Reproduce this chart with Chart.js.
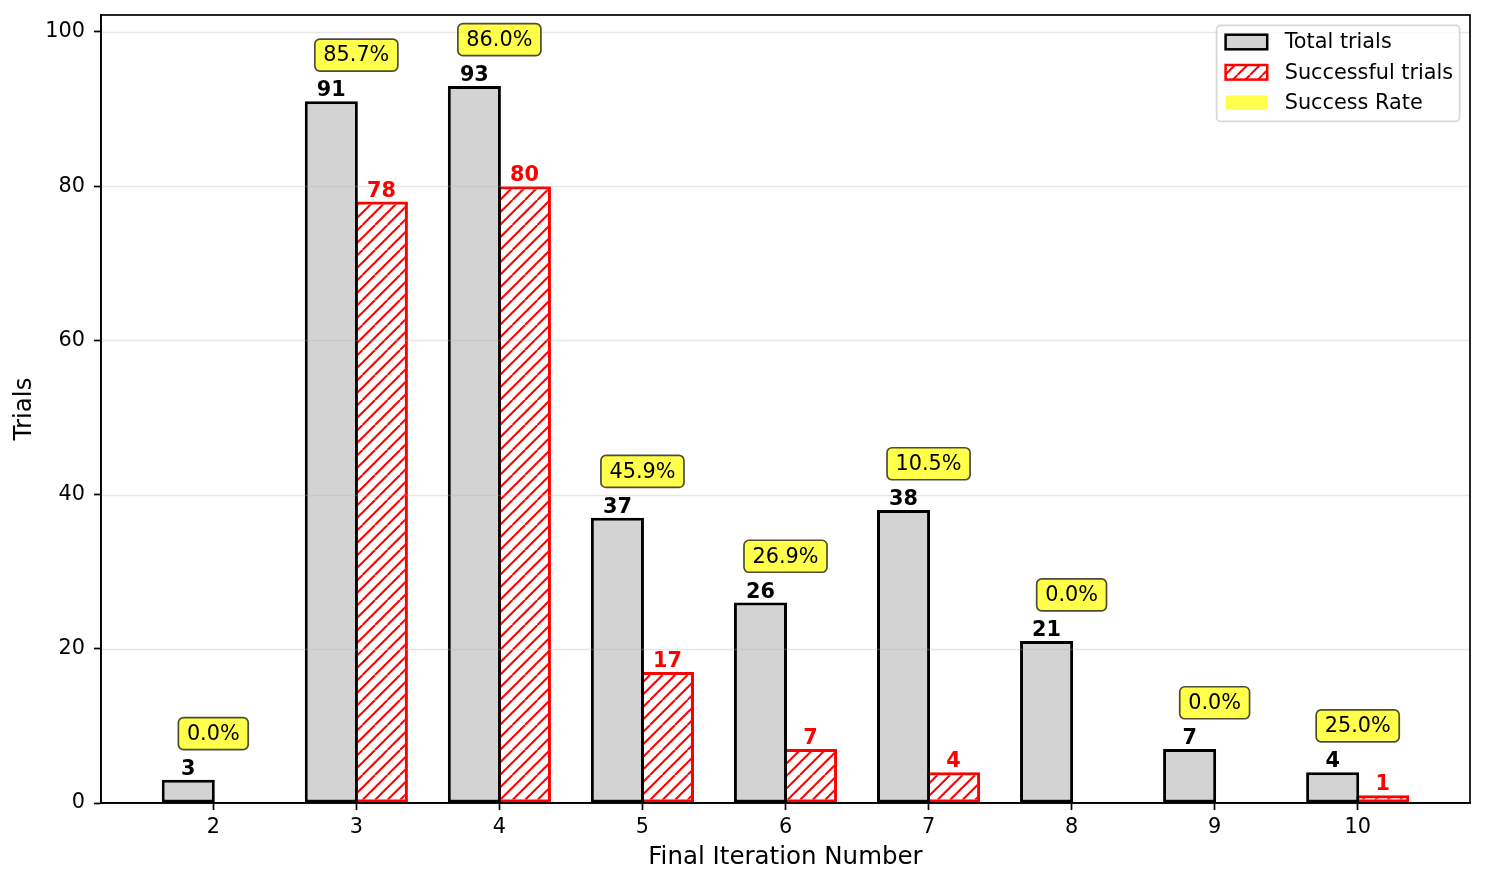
<!DOCTYPE html>
<html>
<head>
<meta charset="utf-8">
<script src="https://cdn.jsdelivr.net/npm/chart.js@4.4.1/dist/chart.umd.min.js"></script>
<style>
  html, body { margin: 0; padding: 0; background: #fff; }
</style>
</head>
<body>
<canvas id="grafica" width="1486" height="885"></canvas>
<script>
// datos
const iteraciones = [2, 3, 4, 5, 6, 7, 8, 9, 10];
const totalTrials = [3, 91, 93, 37, 26, 38, 21, 7, 4];
const successTrials = [0, 78, 80, 17, 7, 4, 0, 0, 1];
const yTicks = [0, 20, 40, 60, 80, 100];
const leyenda = ['Total trials', 'Successful trials', 'Success Rate'];

const FUENTE = "'DejaVu Sans', sans-serif";
Chart.defaults.font.family = FUENTE;
Chart.defaults.color = '#000';

// patron rayado "//" en rojo
function crearRayado() {
  const c = document.createElement('canvas');
  c.width = 25; c.height = 25;
  const g = c.getContext('2d');
  g.strokeStyle = 'red';
  g.lineWidth = 2;
  for (let o = -25; o <= 25; o += 12.5) {
    g.beginPath();
    g.moveTo(o, 25);
    g.lineTo(o + 25, 0);
    g.stroke();
  }
  return g.createPattern(c, 'repeat');
}
const rayado = crearRayado();

function rectRedondo(ctx, x, y, w, h, r) {
  ctx.beginPath();
  ctx.moveTo(x + r, y);
  ctx.lineTo(x + w - r, y);
  ctx.arcTo(x + w, y, x + w, y + r, r);
  ctx.lineTo(x + w, y + h - r);
  ctx.arcTo(x + w, y + h, x + w - r, y + h, r);
  ctx.lineTo(x + r, y + h);
  ctx.arcTo(x, y + h, x, y + h - r, r);
  ctx.lineTo(x, y + r);
  ctx.arcTo(x, y, x + r, y, r);
  ctx.closePath();
}

const decoraciones = {
  id: 'decoraciones',
  afterDatasetsDraw(chart) {
    const { ctx, chartArea: a, scales: { x, y } } = chart;
    ctx.save();

    // lineas de la rejilla por encima de las barras
    ctx.strokeStyle = 'rgba(176,176,176,0.3)';
    ctx.lineWidth = 1.7;
    y.ticks.forEach(t => {
      const py = Math.round(y.getPixelForValue(t.value)) + 0.5;
      ctx.beginPath();
      ctx.moveTo(a.left, py);
      ctx.lineTo(a.right, py);
      ctx.stroke();
    });

    // marco
    ctx.strokeStyle = '#000';
    ctx.lineWidth = 1.7;
    ctx.strokeRect(a.left, a.top, a.right - a.left, a.bottom - a.top);

    // etiquetas de valores
    ctx.font = 'bold 20.8px ' + FUENTE;
    ctx.textAlign = 'center';
    ctx.textBaseline = 'alphabetic';
    const barrasTotal = chart.getDatasetMeta(0).data;
    const barrasExito = chart.getDatasetMeta(1).data;
    barrasTotal.forEach((b, i) => {
      ctx.fillStyle = '#000';
      ctx.fillText(String(totalTrials[i]), b.x, b.y - 5);
    });
    barrasExito.forEach((b, i) => {
      if (successTrials[i] > 0) {
        ctx.fillStyle = 'red';
        ctx.fillText(String(successTrials[i]), b.x, b.y - 5);
      }
    });

    // porcentajes de exito
    ctx.font = '20.8px ' + FUENTE;
    ctx.textBaseline = 'middle';
    iteraciones.forEach((it, i) => {
      const texto = (successTrials[i] / totalTrials[i] * 100).toFixed(1) + '%';
      const cx = x.getPixelForValue(it);
      const cy = y.getPixelForValue(totalTrials[i] + 6);
      const w = ctx.measureText(texto).width + 17;
      const h = 32;
      rectRedondo(ctx, cx - w / 2, cy - h / 2, w, h, 5);
      ctx.fillStyle = 'rgba(255,255,0,0.7)';
      ctx.fill();
      ctx.strokeStyle = 'rgba(0,0,0,0.7)';
      ctx.lineWidth = 1.7;
      ctx.stroke();
      ctx.fillStyle = '#000';
      ctx.fillText(texto, cx, cy + 1);
    });

    // leyenda
    const lx = a.right - 10.4, ly = a.top + 10.4;
    const lw = 243, lh = 96;
    rectRedondo(ctx, lx - lw, ly, lw, lh, 4);
    ctx.fillStyle = 'rgba(255,255,255,0.8)';
    ctx.fill();
    ctx.strokeStyle = 'rgba(204,204,204,0.8)';
    ctx.lineWidth = 1.7;
    ctx.stroke();

    const filas = [ly + 16.6, ly + 46.9, ly + 77.2];
    const hx = lx - lw + 9, hw = 41.6, hh = 14.6;
    ctx.textAlign = 'left';
    ctx.textBaseline = 'middle';
    filas.forEach((fy, k) => {
      const top = fy - hh / 2;
      if (k === 0) {
        ctx.fillStyle = '#d3d3d3';
        ctx.fillRect(hx, top, hw, hh);
        ctx.strokeStyle = '#000';
        ctx.lineWidth = 2.5;
        ctx.strokeRect(hx, top, hw, hh);
      } else if (k === 1) {
        ctx.fillStyle = '#fff';
        ctx.fillRect(hx, top, hw, hh);
        ctx.fillStyle = rayado;
        ctx.fillRect(hx, top, hw, hh);
        ctx.strokeStyle = 'red';
        ctx.lineWidth = 2.5;
        ctx.strokeRect(hx, top, hw, hh);
      } else {
        ctx.fillStyle = 'rgba(255,255,0,0.7)';
        ctx.fillRect(hx, top, hw, hh);
      }
      ctx.fillStyle = '#000';
      ctx.fillText(leyenda[k], hx + hw + 17.5, fy + 1);
    });

    ctx.restore();
  }
};

const ejeComun = {
  border: { display: true, color: '#000', width: 1.7 },
};

const ctx = document.getElementById('grafica').getContext('2d');
const myChart = new Chart(ctx, {
  type: 'bar',
  data: {
    datasets: [
      {
        label: leyenda[0],
        data: iteraciones.map((it, i) => ({ x: it, y: totalTrials[i] })),
        backgroundColor: '#d3d3d3',
        borderColor: '#000',
        borderWidth: 3,
        borderSkipped: false,
        categoryPercentage: 0.7,
        barPercentage: 1.06
      },
      {
        label: leyenda[1],
        data: iteraciones.map((it, i) => ({ x: it, y: successTrials[i] })),
        backgroundColor: rayado,
        borderColor: 'red',
        borderWidth: 3,
        borderSkipped: false,
        categoryPercentage: 0.7,
        barPercentage: 1.06
      }
    ]
  },
  options: {
    responsive: false,
    animation: false,
    devicePixelRatio: 1,
    layout: { padding: { top: 15, right: 16, left: 0, bottom: 0 } },
    plugins: {
      legend: { display: false },
      tooltip: { enabled: false }
    },
    scales: {
      x: {
        type: 'linear',
        min: 1.215,
        max: 10.785,
        offset: false,
        afterBuildTicks: s => { s.ticks = iteraciones.map(v => ({ value: v })); },
        afterFit: s => { s.height = 82; s.paddingLeft = 0; s.paddingRight = 0; },
        ticks: {
          font: { size: 20.8 },
          padding: 5,
          maxRotation: 0,
          autoSkip: false,
          callback: v => String(v)
        },
        grid: {
          display: true,
          drawOnChartArea: false,
          offset: false,
          tickLength: 7,
          tickColor: '#000',
          tickWidth: 1.7
        },
        border: ejeComun.border,
        title: {
          display: true,
          text: 'Final Iteration Number',
          font: { size: 24.5 },
          padding: { top: 0, bottom: 13 }
        }
      },
      y: {
        min: 0,
        max: 102.2,
        afterBuildTicks: s => { s.ticks = yTicks.map(v => ({ value: v })); },
        afterFit: s => { s.width = 101; s.paddingTop = 0; s.paddingBottom = 0; },
        ticks: {
          font: { size: 20.8 },
          padding: 9,
          callback: v => String(v)
        },
        grid: {
          drawOnChartArea: false,
          tickLength: 7,
          tickColor: '#000',
          tickWidth: 1.7
        },
        border: ejeComun.border,
        title: {
          display: true,
          text: 'Trials',
          font: { size: 24.5 },
          padding: { top: 10, bottom: 0 }
        }
      }
    }
  },
  plugins: [decoraciones]
});
</script>
</body>
</html>
